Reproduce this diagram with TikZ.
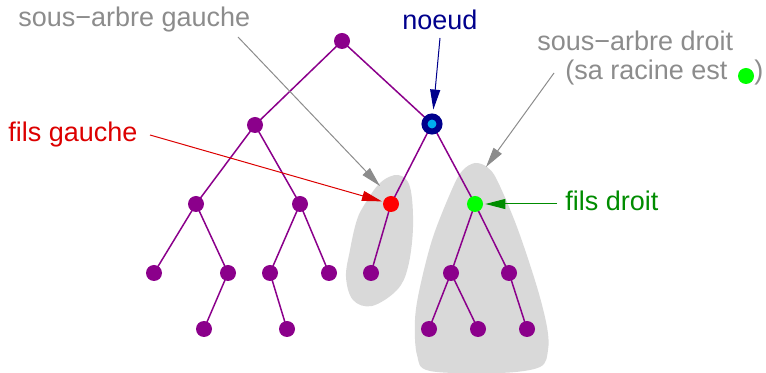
\documentclass[tikz,border=0pt]{standalone}
\usepackage{fontspec}
\setmainfont{Liberation Sans}
\usetikzlibrary{arrows.meta,backgrounds}
\definecolor{treepurple}{RGB}{139,0,139}
\definecolor{labelgray}{RGB}{140,140,140}
\definecolor{blobgray}{RGB}{217,217,217}
\definecolor{darkred}{RGB}{220,0,0}
\definecolor{darkgreen}{RGB}{0,140,0}
\definecolor{navy}{RGB}{0,0,140}
\definecolor{lime}{RGB}{0,255,0}
\begin{document}
\begin{tikzpicture}[x=0.5pt,y=-0.5pt,
  vertex/.style={circle,fill=treepurple,inner sep=0pt,minimum size=8pt},
  edge/.style={draw=treepurple,line width=0.75pt},
  lbl/.style={anchor=base west,inner sep=0pt,font=\fontsize{13.5}{16}\selectfont},
  pointer/.style={line width=0.5pt,-{Triangle[length=10pt,width=5pt]}},
  blob/.style={fill=blobgray,draw=none}]
\useasboundingbox (0,0) rectangle (766,373);

% tree nodes
\node[vertex] (r) at (342,41) {};
\node[vertex] (a) at (255,125) {};
\node[circle,fill=cyan,draw=navy,line width=3pt,inner sep=0pt,minimum size=7.5pt] (n) at (432,124) {};
\node[vertex] (b) at (196,204) {};
\node[vertex] (c) at (300,204) {};
\node[vertex,fill=red] (fg) at (391,204) {};
\node[vertex,fill=lime] (fd) at (475,204) {};
\node[vertex] (b1) at (154,273) {};
\node[vertex] (b2) at (228,273) {};
\node[vertex] (c1) at (270,273) {};
\node[vertex] (c2) at (329,273) {};
\node[vertex] (g1) at (371,273) {};
\node[vertex] (d1) at (451,273) {};
\node[vertex] (d2) at (509,273) {};
\node[vertex] (b21) at (204,329) {};
\node[vertex] (c11) at (287,329) {};
\node[vertex] (d11) at (429,329) {};
\node[vertex] (d12) at (478,329) {};
\node[vertex] (d21) at (527,329) {};

\begin{pgfonlayer}{background}
  % shaded subtrees
  \path[blob] plot[smooth cycle,tension=0.6] coordinates {
    (398,175) (410,187) (413,227) (408,267) (397,290) (372,306)
    (353,300) (346,277) (350,250) (356,223) (363,207) (380,183)};
  \path[blob] plot[smooth cycle,tension=0.55] coordinates {
    (475,163) (487,167) (497,180) (517,227) (537,287) (547,327)
    (548,350) (540,367) (500,373) (430,371) (417,355) (415,320)
    (420,287) (433,237) (453,187) (463,170)};
  % edges
  \foreach \u/\v in {r/a,r/n,a/b,a/c,n/fg,n/fd,b/b1,b/b2,c/c1,c/c2,fg/g1,
                     fd/d1,fd/d2,b2/b21,c1/c11,d1/d11,d1/d12,d2/d21}
    \path[edge] (\u.center) -- (\v.center);
\end{pgfonlayer}

% labels
\node[lbl,text=labelgray] (sag) at (18,27) {sous−arbre gauche};
\node[lbl,text=navy] (lnoeud) at (402,30) {noeud};
\node[lbl,text=labelgray] (sad) at (537,51) {sous−arbre droit};
\node[lbl,text=labelgray] (sad2) at (565,80) {(sa racine est};
\node[circle,fill=lime,inner sep=0pt,minimum size=8pt] (dot) at (746,76) {};
\node[lbl,text=labelgray] (sad3) at (754,80) {)};
\node[lbl,text=darkred] (lfg) at (8,142) {fils gauche};
\node[lbl,text=darkgreen] (lfd) at (565,211) {fils droit};

% pointers
\coordinate (sagfrom) at (238,37);
\coordinate (sagto) at (380,186);
\coordinate (sadfrom) at (554,73);
\coordinate (sadto) at (486,167);
\coordinate (nfrom) at (440,38);
\coordinate (fgfrom) at (150,135);
\coordinate (fdfrom) at (557,204);
\draw[pointer,labelgray] (sagfrom) -- (sagto);
\draw[pointer,labelgray] (sadfrom) -- (sadto);
\draw[pointer,navy,shorten >=2pt] (nfrom) -- (n);
\draw[pointer,darkred,shorten >=0.5pt] (fgfrom) -- (fg);
\draw[pointer,darkgreen,shorten >=1pt] (fdfrom) -- (fd);
\end{tikzpicture}
\end{document}
